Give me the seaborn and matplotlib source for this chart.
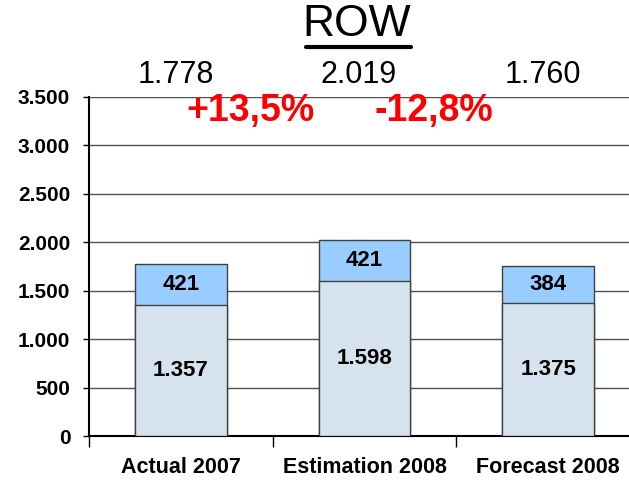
import numpy as np
import pandas as pd
import matplotlib.pyplot as plt
import seaborn as sns

categories = ["Actual 2007", "Estimation 2008", "Forecast 2008"]
base_values = [1357, 1598, 1375]
top_values = [421, 421, 384]
total_labels = ["1.778", "2.019", "1.760"]
base_labels = ["1.357", "1.598", "1.375"]
top_labels = ["421", "421", "384"]
change_labels = ["+13,5%", "-12,8%"]
y_ticks = [0, 500, 1000, 1500, 2000, 2500, 3000, 3500]
y_tick_labels = ["0", "500", "1.000", "1.500", "2.000", "2.500", "3.000", "3.500"]

df = pd.DataFrame({"cat": categories, "base": base_values, "top": top_values})
df["total"] = df["base"] + df["top"]

sns.set_style("white")
plt.rcParams["font.family"] = ["Liberation Sans", "DejaVu Sans"]
plt.rcParams["text.color"] = "black"
plt.rcParams["xtick.color"] = "black"
plt.rcParams["ytick.color"] = "black"

fig = plt.figure(figsize=(6.29, 4.80), dpi=100)
ax = fig.add_axes([89 / 629, 44 / 480, 540 / 629, 339 / 480])

# total bar first (top colour), then base bar drawn over it
sns.barplot(data=df, x="cat", y="total", color="#99CCFF", saturation=1,
            width=0.5, edgecolor="#404040", linewidth=1, errorbar=None, ax=ax, zorder=3)
sns.barplot(data=df, x="cat", y="base", color="#D6E3EE", saturation=1,
            width=0.5, edgecolor="#404040", linewidth=1, errorbar=None, ax=ax, zorder=3)

ax.set_xlim(-0.5, 2.44)
ax.set_ylim(0, 3500)
ax.set_xlabel("")
ax.set_ylabel("")

ax.set_yticks(y_ticks)
ax.set_yticklabels(y_tick_labels, fontsize=15, fontweight="bold")
ax.yaxis.grid(True, color="#505050", linewidth=1)
ax.set_axisbelow(True)
ax.tick_params(axis="y", length=4.5, width=1, left=True, pad=9)

ax.set_xticks([0, 1, 2])
ax.set_xticklabels(categories, fontsize=15.5, fontweight="bold")
ax.set_xticks([-0.5, 0.5, 1.5], minor=True)
ax.tick_params(axis="x", which="major", length=0, pad=15)
ax.tick_params(axis="x", which="minor", length=8, width=1, bottom=True)

for s in ["top", "right"]:
    ax.spines[s].set_visible(False)
for s in ["left", "bottom"]:
    ax.spines[s].set_color("black")
    ax.spines[s].set_linewidth(1.5)

for i in range(len(categories)):
    b = df["base"][i]
    t = df["top"][i]
    ax.text(i, b / 2, base_labels[i], ha="center", va="center",
            fontsize=16, fontweight="bold", zorder=5)
    ax.text(i, b + t / 2, top_labels[i], ha="center", va="center",
            fontsize=16, fontweight="bold", zorder=5)
    ax.text(i - 0.03, 3730, total_labels[i], ha="center", va="center",
            fontsize=22, clip_on=False)

for i, lab in enumerate(change_labels):
    ax.text(i + 0.38, 3355, lab, ha="center", va="center", fontsize=27,
            fontweight="bold", color="#FF0000", clip_on=False)

fig.text(357 / 629, 1 - 25 / 480, "ROW", ha="center", va="center", fontsize=32)
fig.add_artist(plt.Line2D([306 / 629, 411 / 629], [1 - 47 / 480, 1 - 47 / 480],
                          color="black", linewidth=3))

fig.savefig("out.png", dpi=100)
